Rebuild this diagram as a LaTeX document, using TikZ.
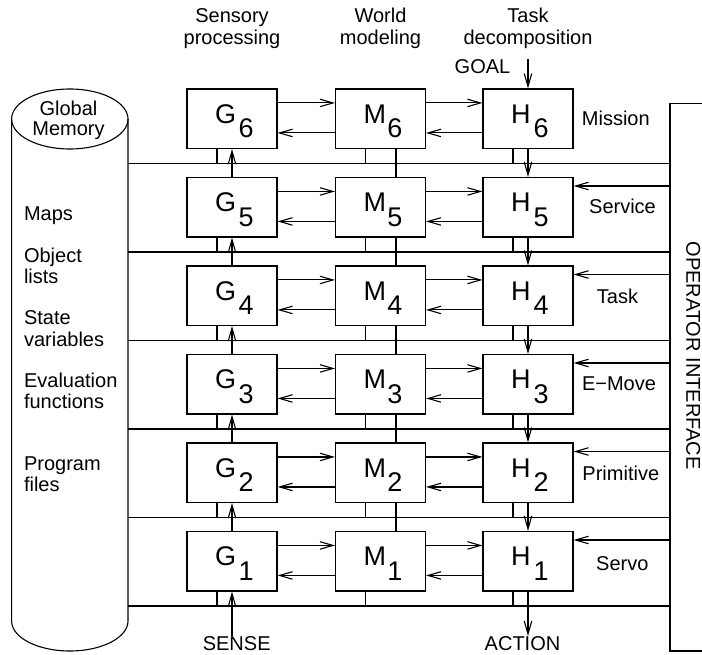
\documentclass[tikz,border=0pt]{standalone}
\usepackage{fontspec}
\setmainfont{Liberation Sans}
\usetikzlibrary{arrows.meta}
\newcommand{\stackc}[1]{\begin{tabular}[t]{@{}c@{}}#1\end{tabular}}
\newcommand{\stackl}[1]{\begin{tabular}[t]{@{}l@{}}#1\end{tabular}}
\begin{document}
\begin{tikzpicture}[x=1pt,y=-1pt,line width=1.1pt,
  mod/.style={draw,rectangle,minimum width=90pt,minimum height=59.5pt,inner sep=0pt},
  txt/.style={font=\fontsize{20}{22.3}\selectfont,inner sep=0pt,anchor=base},
  lt/.style={font=\fontsize{20}{21}\selectfont,inner sep=0pt,anchor=base west},
  big/.style={font=\fontsize{27}{27}\selectfont,inner sep=0pt,anchor=base west},
  arr/.style={-{Straight Barb[length=13pt,width=7.5pt]}}]
\useasboundingbox (0,0) rectangle (702,655);

% column headers
\node[txt] (hdS) at (232,22.7) {\stackc{Sensory\\processing}};
\node[txt] (hdW) at (380.5,22.7) {\stackc{World\\modeling}};
\node[txt] (hdT) at (528,22.7) {\stackc{Task\\decomposition}};

% global memory cylinder
\draw (69.8,119) ellipse [x radius=58.2, y radius=30];
\draw (11.6,119) -- (11.6,621) arc[start angle=180, end angle=0, x radius=58.2, y radius=30] -- (128,119);
\node[txt,font=\fontsize{20}{20.3}\selectfont] (gm) at (68.5,115.7) {\stackc{Global\\Memory}};
\node[lt] (maps) at (23.5,220.7) {Maps};
\node[lt] (obj) at (23.5,262.3) {\stackl{Object\\lists}};
\node[lt] (state) at (23.5,325) {\stackl{State\\variables}};
\node[lt] (eval) at (23.5,387.3) {\stackl{Evaluation\\functions}};
\node[lt] (prog) at (23.5,470) {\stackl{Program\\files}};

% modules per level
\foreach \i in {1,...,6}{
  \pgfmathsetmacro{\cy}{118.75+(6-\i)*88.5}
  \pgfmathsetmacro{\by}{163.5+(6-\i)*88.5}
  \node[mod] (G\i) at (232,\cy) {};
  \node[mod] (M\i) at (380.5,\cy) {};
  \node[mod] (H\i) at (528,\cy) {};
  \node[big] (gl\i) at ([shift={(28,35)}]G\i.north west) {G\kern2.5pt\raisebox{-14.3pt}{\i}};
  \node[big] (ml\i) at ([shift={(28,35)}]M\i.north west) {M\kern1.5pt\raisebox{-14.3pt}{\i}};
  \node[big] (hl\i) at ([shift={(28,35)}]H\i.north west) {H\kern3pt\raisebox{-14.3pt}{\i}};
  \coordinate (bl\i) at (128,\by);
  \coordinate (br\i) at (670,\by);
  \draw (bl\i) -- (br\i);
  \coordinate (gs\i) at (217,\by);
  \coordinate (ms\i) at (365.5,\by);
  \coordinate (hs\i) at (513,\by);
  \draw (gs\i) -- (gs\i |- G\i.south);
  \draw (ms\i) -- (ms\i |- M\i.south);
  \draw (hs\i) -- (hs\i |- H\i.south);
  \draw[arr] ([shift={(0,14.5)}]G\i.north east) -- ([shift={(0,14.5)}]M\i.north west);
  \draw[arr] ([shift={(0,44.5)}]M\i.north west) -- ([shift={(0,44.5)}]G\i.north east);
  \draw[arr] ([shift={(0,14.5)}]M\i.north east) -- ([shift={(0,14.5)}]H\i.north west);
  \draw[arr] ([shift={(0,44.5)}]H\i.north west) -- ([shift={(0,44.5)}]M\i.north east);
}

% vertical links between levels
\foreach \i/\j in {2/1,3/2,4/3,5/4,6/5}{
  \draw[arr] (G\j.north) -- (G\i.south);
  \draw ([shift={(15.5,0)}]M\i.south) -- ([shift={(15.5,0)}]M\j.north);
  \draw[arr] (H\i.south) -- (H\j.north);
}

% operator interface
\draw (702,103.3) -- (670,103.3) -- (670,651) -- (702,651);
\node[txt,anchor=center,rotate=-90] (oit) at (693.3,355.6) {OPERATOR INTERFACE};
\foreach \i in {1,...,5}{
  \pgfmathsetmacro{\oy}{97.5+(6-\i)*88.5}
  \coordinate (op\i) at (670,\oy);
  \draw[arr] (op\i) -- (op\i -| H\i.east);
}

% level names
\node[txt] (lv6) at (615.8,126) {Mission};
\node[txt] (lv5) at (622.5,213.3) {Service};
\node[txt] (lv4) at (617.5,303.3) {Task};
\node[txt] (lv3) at (619,390.7) {E−Move};
\node[txt] (lv2) at (620.8,480.7) {Primitive};
\node[txt] (lv1) at (622.3,570.7) {Servo};

% goal, sense, action
\node[txt] (goal) at (482.5,73.3) {GOAL};
\coordinate (goalS) at (528,59);
\draw[arr] (goalS) -- (H6.north);
\node[txt] (sense) at (236.7,650) {SENSE};
\coordinate (senseS) at (232,636);
\draw[arr] (senseS) -- (G1.south);
\node[txt] (action) at (522.5,650) {ACTION};
\coordinate (actionE) at (528,636);
\draw[arr] (H1.south) -- (actionE);
\end{tikzpicture}
\end{document}
